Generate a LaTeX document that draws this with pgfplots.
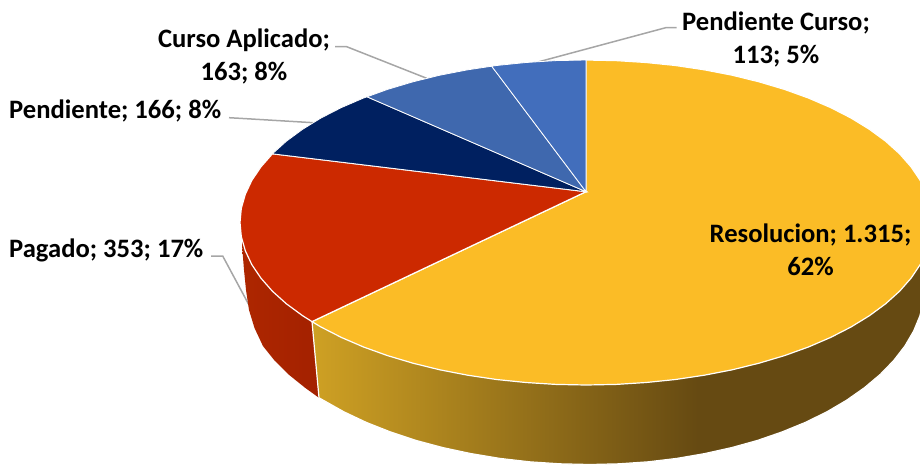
\documentclass[border=0pt]{standalone}
\usepackage{pgfplots}
\pgfplotsset{compat=1.18}
\usepackage{fontspec}
\setmainfont{Carlito}
\definecolor{cyellow}{HTML}{FBBC26}
\definecolor{cred}{HTML}{CC2900}
\definecolor{cnavy}{HTML}{002060}
\definecolor{cmid}{HTML}{3F68AE}
\definecolor{cblue}{HTML}{426EBC}
\definecolor{cgrey}{HTML}{A6A6A6}
\pgfdeclarehorizontalshading{yside}{100bp}{
 rgb(0bp)=(0.81,0.63,0.14);
 rgb(25bp)=(0.81,0.63,0.14);
 rgb(56bp)=(0.40,0.29,0.07);
 rgb(100bp)=(0.40,0.29,0.07)}
\pgfdeclarehorizontalshading{rside}{100bp}{
 rgb(0bp)=(0.68,0.15,0.0);
 rgb(25bp)=(0.68,0.15,0.0);
 rgb(75bp)=(0.64,0.13,0.0);
 rgb(100bp)=(0.64,0.13,0.0)}
\begin{document}
\begin{tikzpicture}
\useasboundingbox (0,0) rectangle (920pt,464pt);
\begin{axis}[
  at={(0,0)}, anchor=south west,
  scale only axis, width=920pt, height=464pt,
  xmin=0, xmax=920, ymin=0, ymax=464, y dir=reverse,
  hide axis, clip=true]
% values: Resolucion 1315, Pagado 353, Pendiente 166, Curso Aplicado 163, Pendiente Curso 113
% leader lines
\addplot[cgrey, line width=1.5pt] coordinates {(211,256) (222.7,256) (251.7,310)};
\addplot[cgrey, line width=1.5pt] coordinates {(229,117.7) (243,118.5) (313.3,122.7)};
\addplot[cgrey, line width=1.5pt] coordinates {(335,46.7) (346.7,46.7) (426.7,78.3)};
\addplot[cgrey, line width=1.5pt] coordinates {(539,61.7) (665.7,27.7) (676.7,27.7)};
% red side wall
\addplot[draw=none, shade, shading=rside] coordinates {
 (242,235) (312,321.6) (319,397.8) (305,387.7) (288.6,374.5) (274.6,360.6) (263,346.1)
 (254.5,328) (249,310) (246,290) (244,270) (242,245)} -- cycle;
% yellow side wall
\addplot[draw=white, line width=1.2pt, shade, shading=yside] coordinates {
 (312,321.6) (319,397.8) (343.9,411.8) (366.3,422.4) (390.4,431.9) (416,440.4) (442.9,447.6) (471,453.6)
 (499.9,458.4) (529.6,461.8) (559.7,463.8) (590,464.5) (619.2,463.8) (648.2,461.8) (676.7,458.4)
 (704.6,453.6) (731.6,447.6) (757.5,440.4) (782.1,431.9) (805.3,422.4) (826.9,411.8) (846.6,400.2)
 (864.4,387.7) (880.1,374.5) (893.6,360.6) (904.8,346.1) (913.6,331.1) (919.9,315.8) (923.7,300.2)
 (925,284.5) (935,222.5) (586,222.5)} -- cycle;
% top faces
\addplot[fill=cyellow, draw=white, line width=1.2pt] coordinates {
 (586,191.7) (586,60) (616.2,60.6) (646.1,62.5) (675.5,65.5) (704.3,69.8) (732.2,75.2) (759,81.8) (784.5,89.4)
 (808.4,98) (830.7,107.6) (851,118) (869.4,129.3) (885.6,141.2) (899.6,153.8) (911.1,166.9) (920.2,180.4)
 (926.7,194.3) (930.7,208.3) (932,222.5) (930.7,236.7) (926.7,250.7) (920.2,264.6) (911.1,278.1)
 (899.6,291.2) (885.6,303.8) (869.4,315.7) (851,327) (830.7,337.4) (808.4,347) (784.5,355.6) (759,363.2)
 (732.2,369.8) (704.3,375.2) (675.5,379.5) (646.1,382.5) (616.2,384.4) (586,385) (555.8,384.4) (525.9,382.5)
 (496.5,379.5) (467.7,375.2) (439.8,369.8) (413,363.2) (387.5,355.6) (363.6,347) (341.3,337.4) (321,327)
 (312,321.6)} -- cycle;
\addplot[fill=cred, draw=white, line width=1.2pt] coordinates {
 (586,191.7) (312,321.6) (302.6,315.7) (286.4,303.8) (272.4,291.2) (260.9,278.1) (251.8,264.6) (245.3,250.7)
 (241.3,236.7) (240,222.5) (241.3,208.3) (245.3,194.3) (251.8,180.4) (260.9,166.9) (272.4,153.8)} -- cycle;
\addplot[fill=cnavy, draw=white, line width=0.8pt] coordinates {
 (586,191.7) (272.4,153.8) (286.4,141.2) (302.6,129.3) (321,118) (341.3,107.6) (363.6,98) (367,96.8)} -- cycle;
\addplot[fill=cmid, draw=white, line width=0.8pt] coordinates {
 (586,191.7) (367,96.8) (387.5,89.4) (413,81.8) (439.8,75.2) (467.7,69.8) (491.7,66.2)} -- cycle;
\addplot[fill=cblue, draw=white, line width=0.8pt] coordinates {
 (586,191.7) (491.7,66.2) (496.5,65.5) (525.9,62.5) (555.8,60.6) (586,60)} -- cycle;
% labels
\node[font=\fontsize{26.6}{33}\selectfont\bfseries, align=center, inner sep=0pt] at (axis cs:244,56.5) {Curso Aplicado;\\163; 8\%};
\node[font=\fontsize{26.6}{33}\selectfont\bfseries, anchor=west, inner sep=0pt] at (axis cs:9,111) {Pendiente; 166; 8\%};
\node[font=\fontsize{26.6}{33}\selectfont\bfseries, anchor=west, inner sep=0pt] at (axis cs:9,250.5) {Pagado; 353; 17\%};
\node[font=\fontsize{26.6}{33}\selectfont\bfseries, align=center, inner sep=0pt] at (axis cs:776,39) {Pendiente Curso;\\113; 5\%};
\node[font=\fontsize{26.6}{33}\selectfont\bfseries, align=center, inner sep=0pt] at (axis cs:810.5,250) {Resolucion; 1.315;\\62\%};
\end{axis}
\end{tikzpicture}
\end{document}
